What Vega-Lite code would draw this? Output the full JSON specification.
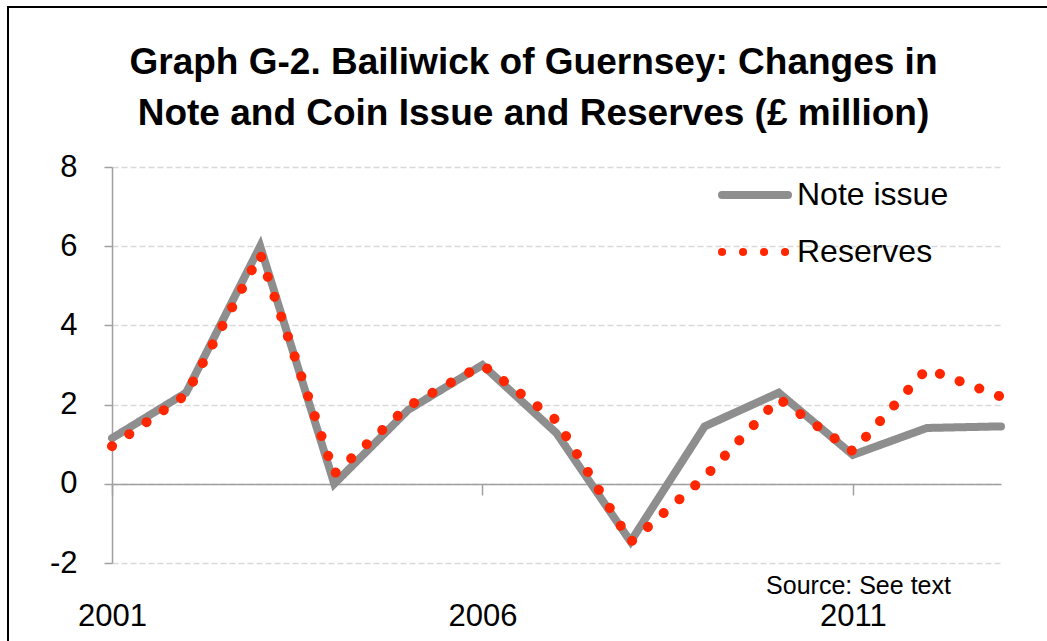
{
  "$schema": "https://vega.github.io/schema/vega-lite/v6.json",
  "width": 1039,
  "height": 634,
  "autosize": {"type": "none"},
  "padding": {"left": 8, "top": 7, "right": 0, "bottom": 0},
  "background": "white",
  "config": {
    "font": "Liberation Sans",
    "view": {"stroke": "black", "strokeWidth": 2, "strokeDash": [1039, 1673, 634]},
    "axis": {"labelFont": "Liberation Sans", "labelColor": "black", "domainColor": "#a0a0a0", "tickColor": "#a0a0a0", "domainWidth": 1.5, "tickWidth": 1.5}
  },
  "title": {
    "text": ["Graph G-2. Bailiwick of Guernsey: Changes in", "Note and Coin Issue and Reserves (£ million)"],
    "fontSize": 37,
    "fontWeight": "bold",
    "font": "Liberation Sans",
    "color": "black",
    "anchor": "middle",
    "frame": "group",
    "lineHeight": 51,
    "baseline": "alphabetic",
    "offset": 0,
    "dx": 6,
    "dy": 155
  },
  "data": {
    "values": [
      {"year": 2001, "series": "Note issue", "value": 1.15},
      {"year": 2002, "series": "Note issue", "value": 2.3},
      {"year": 2003, "series": "Note issue", "value": 6.0},
      {"year": 2004, "series": "Note issue", "value": 0.0},
      {"year": 2005, "series": "Note issue", "value": 1.87},
      {"year": 2006, "series": "Note issue", "value": 3.0},
      {"year": 2007, "series": "Note issue", "value": 1.28},
      {"year": 2008, "series": "Note issue", "value": -1.46},
      {"year": 2009, "series": "Note issue", "value": 1.45},
      {"year": 2010, "series": "Note issue", "value": 2.3},
      {"year": 2011, "series": "Note issue", "value": 0.73},
      {"year": 2012, "series": "Note issue", "value": 1.41},
      {"year": 2013, "series": "Note issue", "value": 1.45},
      {"year": 2001, "series": "Reserves", "value": 0.95},
      {"year": 2002, "series": "Reserves", "value": 2.25},
      {"year": 2003, "series": "Reserves", "value": 5.8},
      {"year": 2004, "series": "Reserves", "value": 0.25},
      {"year": 2005, "series": "Reserves", "value": 1.96},
      {"year": 2006, "series": "Reserves", "value": 3.0},
      {"year": 2007, "series": "Reserves", "value": 1.6},
      {"year": 2008, "series": "Reserves", "value": -1.47},
      {"year": 2009, "series": "Reserves", "value": 0.17},
      {"year": 2010, "series": "Reserves", "value": 2.15},
      {"year": 2011, "series": "Reserves", "value": 0.82},
      {"year": 2012, "series": "Reserves", "value": 2.9},
      {"year": 2013, "series": "Reserves", "value": 2.2}
    ]
  },
  "encoding": {
    "x": {
      "field": "year",
      "type": "quantitative",
      "scale": {"domain": [2001, 2013], "range": [104, 993], "nice": false, "zero": false},
      "axis": {
        "values": [2001, 2006, 2011],
        "format": "d",
        "orient": "bottom",
        "offset": -157,
        "grid": false,
        "tickSize": 11,
        "labelFontSize": 31,
        "labelPadding": 130,
        "labelBaseline": "alphabetic",
        "labelFlush": false,
        "labelOverlap": false,
        "title": "Source: See text",
        "titleX": 850,
        "titleY": 109,
        "titleAlign": "center",
        "titleBaseline": "alphabetic",
        "titleFontSize": 25,
        "titleFontWeight": "normal",
        "titleColor": "black",
        "titleFont": "Liberation Sans"
      }
    },
    "y": {
      "field": "value",
      "type": "quantitative",
      "scale": {"domain": [-2, 8], "range": [556, 160], "nice": false, "zero": false},
      "axis": {
        "values": [-2, 0, 2, 4, 6, 8],
        "labelExpr": "datum.value < 0 ? '-' + (-datum.value) : '' + datum.value",
        "orient": "left",
        "offset": -104,
        "title": null,
        "grid": true,
        "gridColor": "#d9d9d9",
        "gridDash": [6, 3],
        "gridWidth": 1.5,
        "tickSize": 8,
        "labelFontSize": 31,
        "labelPadding": 27,
        "labelFlush": false,
        "labelOverlap": false,
        "labelBaseline": "middle",
        "labelDy": 3
      }
    },
    "color": {
      "field": "series",
      "type": "nominal",
      "scale": {"domain": ["Note issue", "Reserves"], "range": ["#8e8e8e", "#ff2600"]},
      "legend": {
        "title": null,
        "orient": "none",
        "legendX": 710,
        "legendY": 168,
        "padding": 0,
        "symbolType": "stroke",
        "symbolSize": 4356,
        "symbolStrokeWidth": 8,
        "labelFontSize": 32,
        "labelColor": "black",
        "labelFont": "Liberation Sans",
        "labelOffset": 5,
        "clipHeight": 40,
        "rowPadding": 17,
        "encode": {"symbols": {"update": {"strokeCap": {"value": "round"}}}}
      }
    },
    "strokeDash": {
      "field": "series",
      "type": "nominal",
      "scale": {"domain": ["Note issue", "Reserves"], "range": [[1, 0], [0.1, 20.9]]},
      "legend": {
        "title": null,
        "orient": "none",
        "legendX": 710,
        "legendY": 168,
        "padding": 0,
        "symbolType": "stroke",
        "symbolSize": 4356,
        "symbolStrokeWidth": 8,
        "labelFontSize": 32,
        "labelColor": "black",
        "labelFont": "Liberation Sans",
        "labelOffset": 5,
        "clipHeight": 40,
        "rowPadding": 17,
        "encode": {"symbols": {"update": {"strokeCap": {"value": "round"}}}}
      }
    }
  },
  "layer": [
    {
      "transform": [{"filter": "datum.series === 'Note issue'"}],
      "mark": {"type": "line", "strokeWidth": 8, "strokeCap": "round", "strokeJoin": "miter"}
    },
    {
      "transform": [{"filter": "datum.series === 'Reserves'"}],
      "mark": {"type": "line", "strokeWidth": 10, "strokeCap": "round"}
    }
  ]
}
